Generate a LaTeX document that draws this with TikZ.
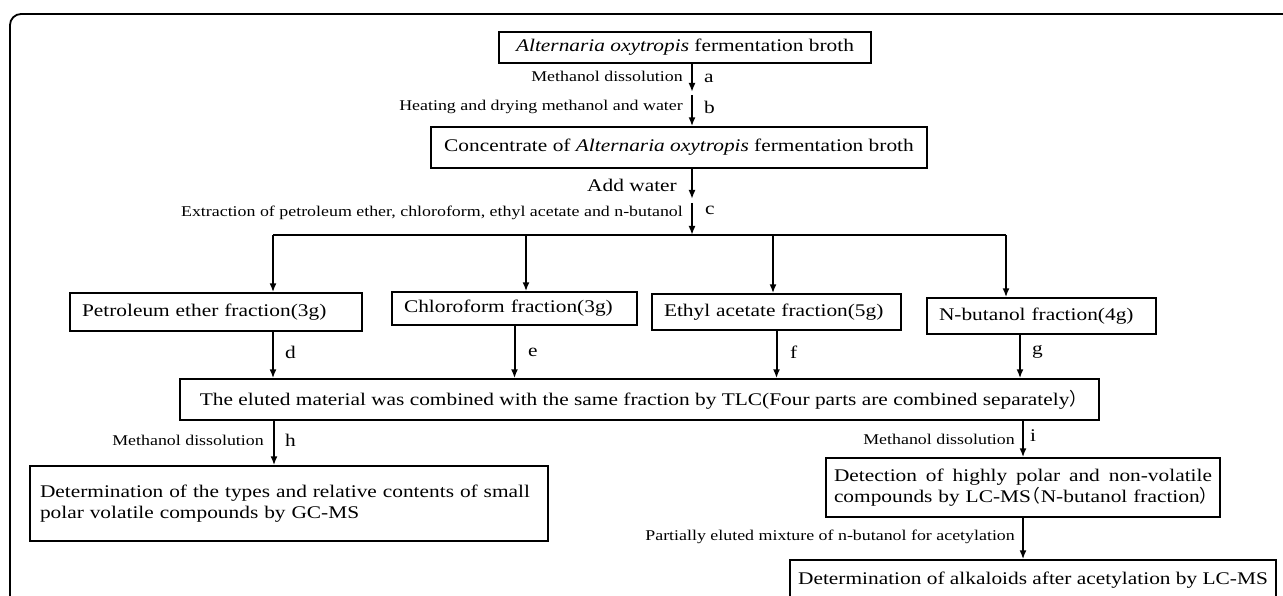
\documentclass[tikz,border=0pt]{standalone}
\usepackage{fontspec}
\setmainfont{Liberation Serif}[FakeStretch=1.2]
\newfontfamily\cjkfont{Noto Sans CJK SC}
\newcommand\lpar{\makebox[0.55em][r]{\cjkfont （}}
\newcommand\rpar{\makebox[0.55em][l]{\cjkfont ）}}
\usetikzlibrary{arrows.meta}
\begin{document}
\begin{tikzpicture}
			[x=1pt,y=-1pt,
			box/.style={draw,line width=1.4pt,inner sep=0pt,font=\fontsize{17.8}{20.5}\selectfont},
			frac/.style={box,align=left,inner xsep=12pt},
			lbl/.style={inner sep=0pt,anchor=east,font=\fontsize{14.9}{17}\selectfont},
			tag/.style={inner sep=0pt,anchor=west,font=\fontsize{17.8}{20}\selectfont},
			>={Latex[length=9pt,width=7pt]}]
			\useasboundingbox (0,0) rectangle (1283,596);
			\begin{scope}
				\clip (0,0) rectangle (1283,596);
				\draw[line width=1.8pt,rounded corners=11pt] (10,14) rectangle (1300,620);
			\end{scope}
			% boxes
			\node[box,name=top,minimum width=372,minimum height=31]at(685,47.5){\textit{Alternaria oxytropis} fermentation broth};
			\node[box,name=conc,minimum width=496,minimum height=41]at(679,147.5){Concentrate of \textit{Alternaria oxytropis} fermentation broth};
			\node[frac,name=pet,text width=268,minimum height=38]at(216,312){Petroleum ether fraction(3g)};
			\node[frac,name=chl,text width=221,minimum height=33]at(514.5,308.5){Chloroform fraction(3g)};
			\node[frac,name=eth,text width=225,minimum height=36]at(776.5,312){Ethyl acetate fraction(5g)};
			\node[frac,name=but,text width=205,minimum height=36]at(1041.5,316){N-butanol fraction(4g)};
			\node[box,name=elu,minimum width=919,minimum height=41]at(639.5,399.5){The eluted material was combined with the same fraction by TLC(Four parts are combined separately\rpar};
			\node[frac,name=gc,inner xsep=10pt,text width=498,minimum height=75]at(289,503.5){Determination of the types and relative contents of small\\polar volatile compounds by GC-MS};
			\node[frac,name=det,inner xsep=8pt,text width=378,minimum height=59]at(1023,487.5){Detection\hfill of\hfill highly\hfill polar\hfill and\hfill non-volatile\\\mbox{compounds by LC-MS\lpar N-butanol fraction\rpar}};
			\node[box,name=fin,minimum width=486,minimum height=40]at(1033,580){Determination of alkaloids after acetylation by LC-MS};
			% junctions
			\coordinate (a1) at (692,92);
			\coordinate (a2) at (692,95);
			\coordinate (w1) at (692,199);
			\coordinate (w2) at (692,203);
			\coordinate (bus0) at (692,235);
			\coordinate (bus1) at (273,235);
			\coordinate (bus2) at (526,235);
			\coordinate (bus3) at (773,235);
			\coordinate (bus4) at (1006,235);
			\coordinate (dx) at (273,0);
			\coordinate (gx) at (1020,0);
			\coordinate (hx) at (274,0);
			% connectors
			\draw[->,line width=2pt](top.south -| a1)--(a1);
			\draw[->,line width=2pt](a2)--(conc.north -| a2);
			\draw[->,line width=2pt](conc.south -| w1)--(w1);
			\draw[->,line width=2pt](w2)--(bus0);
			\draw[line width=2pt](bus1)--(bus4);
			\draw[->,line width=2pt](bus1)--(bus1 |- pet.north);
			\draw[->,line width=2pt](bus2)--(bus2 |- chl.north);
			\draw[->,line width=2pt](bus3)--(bus3 |- eth.north);
			\draw[->,line width=2pt](bus4)--(bus4 |- but.north);
			\draw[->,line width=2pt](pet.south -| dx)--(elu.north -| dx);
			\draw[->,line width=2pt](chl.south)--(elu.north -| chl.south);
			\draw[->,line width=2pt](eth.south)--(elu.north -| eth.south);
			\draw[->,line width=2pt](but.south -| gx)--(elu.north -| gx);
			\draw[->,line width=2pt](elu.south -| hx)--(gc.north -| hx);
			\draw[->,line width=2pt](elu.south -| det.north)--(det.north);
			\draw[->,line width=2pt](det.south)--(fin.north -| det.south);
			% labels
			\node[lbl,name=la]at(683,76){Methanol dissolution};
			\node[tag,name=ta]at(704,78){a};
			\node[lbl,name=lb]at(683,107){Heating and drying methanol and water};
			\node[tag,name=tb]at(704,107){b};
			\node[lbl,name=lw,font=\fontsize{17.8}{20}\selectfont]at(677,185){Add water};
			\node[lbl,name=lc]at(683,213){Extraction of petroleum ether, chloroform, ethyl acetate and n-butanol};
			\node[tag,name=tc]at(705,210){c};
			\node[tag,name=td]at(285,352){d};
			\node[tag,name=te]at(528,352){e};
			\node[tag,name=tf]at(790,352){f};
			\node[tag,name=tg]at(1032,352){g};
			\node[lbl,name=lh]at(264,440){Methanol dissolution};
			\node[tag,name=th]at(285,440){h};
			\node[lbl,name=li]at(1015,439){Methanol dissolution};
			\node[tag,name=ti]at(1030,436){i};
			\node[lbl,name=lp]at(1015,537){Partially eluted mixture of n-butanol for acetylation};
		\end{tikzpicture}
\end{document}
